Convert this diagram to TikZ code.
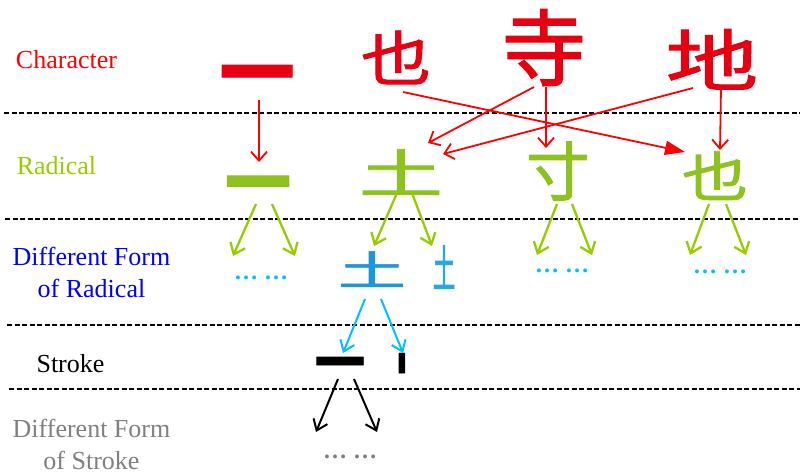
\documentclass[tikz,border=0pt]{standalone}
\usepackage{fontspec}
\setmainfont{Liberation Serif}
\newfontfamily\cjk{Noto Sans CJK SC}[FakeBold=1.5]
\usetikzlibrary{arrows.meta,calc}
\definecolor{charred}{HTML}{E60012}
\definecolor{arrred}{HTML}{FF0000}
\definecolor{radgreen}{HTML}{8DC21F}
\definecolor{arrgreen}{HTML}{99CC00}
\definecolor{formblue}{HTML}{1E96DC}
\definecolor{formblueb}{HTML}{2CA6E0}
\definecolor{arrcyan}{HTML}{00C0FF}
\definecolor{labblue}{HTML}{0000FF}
\definecolor{labgray}{HTML}{808080}
\newcommand{\cjksize}[1]{\cjk\fontsize{#1}{#1}\selectfont}
% \gl{shift}{half height}{glyph}: puts the ink centre on the baseline, tight box
\newcommand{\gl}[3]{\raisebox{-#1pt}[#2pt][#2pt]{#3}}
\tikzset{
  glyph/.style={inner sep=0pt, outer sep=0pt, anchor=center},
  redchar/.style={glyph, text=charred},
  greenchar/.style={glyph, text=radgreen},
  bluechar/.style={glyph, text=formblue},
  blackchar/.style={glyph, text=black},
  lbl/.style={inner sep=0pt, align=center, font=\fontsize{26}{32}\selectfont},
  dotsnode/.style={inner sep=0pt, font=\bfseries\fontsize{24}{24}\selectfont},
  sepline/.style={draw=black, line width=2pt, dash pattern=on 5pt off 2.5pt},
  redarr/.style={draw=arrred, line width=1.8pt, -{Straight Barb[length=9pt,width=16pt]}},
  triarr/.style={draw=arrred, line width=1.8pt, -{Triangle[length=20pt,width=14pt]}},
  greenarr/.style={draw=arrgreen, line width=2.3pt, -{Straight Barb[length=10pt,width=16pt]}},
  cyanarr/.style={draw=arrcyan, line width=2pt, -{Straight Barb[length=10pt,width=15pt]}},
  blackarr/.style={draw=black, line width=2pt, -{Straight Barb[length=10pt,width=15pt]}},
}
\begin{document}
\begin{tikzpicture}[x=1pt,y=-1pt]
\fill[white] (0,0) rectangle (800,475);
\useasboundingbox (0,0) rectangle (800,475);
% separators
\draw[sepline] (4,113) -- (800,113);
\draw[sepline] (5,219) -- (800,219);
\draw[sepline] (7,325) -- (800,325);
\draw[sepline] (9,389) -- (800,389);
% level labels
\node[lbl, text=arrred, anchor=base] (lchar) at (66.5,68) {Character};
\node[lbl, text=arrgreen, anchor=base] (lrad) at (56.5,174) {Radical};
\node[lbl, text=labblue] (lform) at (91.5,272) {Different Form\\of Radical};
\node[lbl, text=black, anchor=base] (lstroke) at (70.5,372) {Stroke};
\node[lbl, text=labgray] (lsform) at (91.5,444) {Different Form\\of Stroke};
% characters
\node[redchar, font=\cjksize{75}\bfseries] (c1) at (257,71) {\gl{29.3}{12}{一}};
\node[redchar, font=\cjksize{70}] (c2) at (396,58) {\gl{22.6}{25}{\scalebox{1}[0.85]{也}}};
\node[redchar, font=\cjksize{84}] (c3) at (544,48) {\gl{31.9}{40}{寺}};
\node[redchar, font=\cjksize{84}] (c4) at (712,60) {\gl{25.5}{28}{\scalebox{1.1}[0.8]{地}}};
% radicals
\node[greenchar, font=\cjksize{66}\bfseries] (r1) at (258,181) {\gl{25.7}{12}{一}};
\node[greenchar, font=\cjksize{80}] (r2) at (401,173) {\gl{19.8}{20}{\scalebox{1.05}[0.65]{土}}};
\node[greenchar, font=\cjksize{64}] (r3) at (558,171) {\gl{24.3}{28}{寸}};
\node[greenchar, font=\cjksize{66}] (r4) at (715,176) {\gl{20.6}{24}{\scalebox{1}[0.82]{也}}};
% different forms of radical
\node[dotsnode, text=arrcyan] (d1) at (261,278) {… …};
\node[bluechar, font=\cjksize{68}] (v1) at (372,270) {\gl{15.5}{17}{\scalebox{1}[0.6]{土}}};
\node[glyph, text=formblueb, font=\cjksize{50}] (v2) at (444,268) {\gl{19}{20}{\scalebox{0.45}[1]{土}}};
\node[dotsnode, text=arrcyan] (d3) at (562,271) {… …};
\node[dotsnode, text=arrcyan] (d4) at (720,272) {… …};
% strokes
\node[blackchar, font=\cjksize{50}\bfseries] (s1) at (340,361) {\gl{19.5}{8}{一}};
\node[blackchar, font=\cjksize{22}] (s2) at (402,363) {\gl{8.4}{10}{\scalebox{3}[1]{丨}}};
% different forms of stroke
\node[dotsnode, text=labgray] (g1) at (350,457) {… …};
% red arrows
\draw[redarr] ($(c1)+(2,29)$) -- ($(r1)+(1,-19)$);
\draw[triarr] ($(c2)+(7,34)$) -- ($(r4)+(-30,-24)$);
\draw[redarr] ($(c3)+(-10,39)$) -- ($(r2)+(27,-30)$);
\draw[redarr] ($(c3)+(2,39)$) -- ($(r3)+(-12,-23)$);
\draw[redarr] ($(c4)+(-19,28)$) -- ($(r2)+(42,-19)$);
\draw[redarr] ($(c4)+(9,28)$) -- ($(r4)+(5,-26)$);
% green arrows
\draw[greenarr] ($(r1)+(-2,23)$) -- ($(d1)+(-28,-22)$);
\draw[greenarr] ($(r1)+(14,23)$) -- ($(d1)+(34,-22)$);
\draw[greenarr] ($(r2)+(-4,20)$) -- ($(v1)+(2,-24)$);
\draw[greenarr] ($(r2)+(11,20)$) -- ($(v2)+(-12,-22)$);
\draw[greenarr] ($(r3)+(-1,33)$) -- ($(d3)+(-25,-16)$);
\draw[greenarr] ($(r3)+(14,33)$) -- ($(d3)+(30,-16)$);
\draw[greenarr] ($(r4)+(-6,28)$) -- ($(d4)+(-30,-17)$);
\draw[greenarr] ($(r4)+(11,28)$) -- ($(d4)+(26,-17)$);
% cyan arrows
\draw[cyanarr] ($(v1)+(-7,29)$) -- ($(s1)+(3,-8)$);
\draw[cyanarr] ($(v1)+(9,29)$) -- ($(s2)+(1,-10)$);
% black arrows
\draw[blackarr] ($(s1)+(-2,18)$) -- ($(g1)+(-34,-25)$);
\draw[blackarr] ($(s1)+(14,18)$) -- ($(g1)+(27,-25)$);
\end{tikzpicture}
\end{document}
